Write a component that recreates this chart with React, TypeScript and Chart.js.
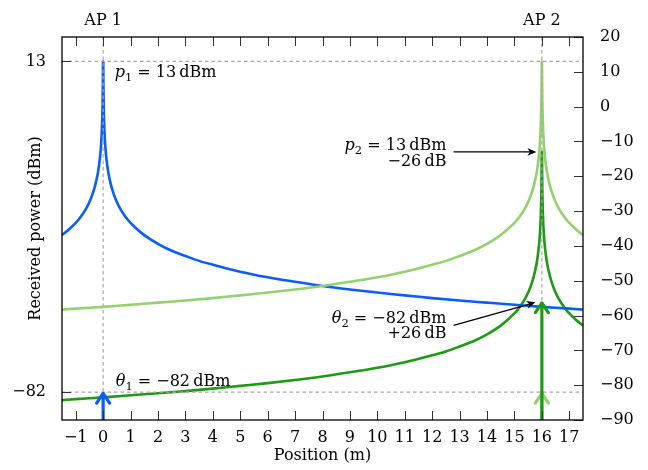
import React, { useEffect, useRef } from 'react';
import { Chart, registerables } from 'chart.js';

Chart.register(...registerables);

// ---- data ----
const xTicks = [-1, 0, 1, 2, 3, 4, 5, 6, 7, 8, 9, 10, 11, 12, 13, 14, 15, 16, 17];
const rightTicks = [-90, -80, -70, -60, -50, -40, -30, -20, -10, 0, 10, 20];
const leftTicks = [13, -82];

// AP 1 received power (blue)
const blueX = [-1.5, -1.25, -1, -0.9, -0.75, -0.6, -0.5, -0.4, -0.3, -0.2, -0.15, -0.1, -0.07, -0.05, -0.03, -0.02, -0.01, -0.005, 0,
  0.005, 0.01, 0.02, 0.03, 0.05, 0.07, 0.1, 0.15, 0.2, 0.3, 0.4, 0.5, 0.6, 0.75, 0.9, 1, 1.25, 1.5, 2, 2.5, 3, 3.5, 4, 5, 6, 7, 8, 9,
  10, 11, 12, 13, 14, 15, 16, 17, 17.5];
const blueY = [-36.9, -35.3, -33.4, -32.5, -30.9, -29.0, -27.4, -25.4, -22.9, -19.4, -16.9, -13.4, -10.3, -7.4, -2.9, 0.6, 6.6, 12.6, 13,
  12.6, 6.6, 0.6, -2.9, -7.4, -10.3, -13.4, -16.9, -19.4, -22.9, -25.4, -27.4, -29.0, -30.9, -32.5, -33.4, -35.3, -36.9, -39.4, -41.4, -42.9, -44.3, -45.4, -47.4, -49.0, -50.3, -51.5, -52.5,
  -53.4, -54.2, -55.0, -55.7, -56.3, -56.9, -57.5, -58.0, -58.3];

// AP 2 received power (light green) and with -26 dB (dark green)
const ap2X = [-1.5, -1, 0, 1, 2, 3, 4, 5, 6, 7, 8, 9, 10, 11, 12, 12.5, 13, 13.5, 14, 14.5, 15, 15.1, 15.25, 15.4, 15.5, 15.6, 15.7,
  15.8, 15.85, 15.9, 15.93, 15.95, 15.97, 15.98, 15.99, 15.995, 16, 16.005, 16.01, 16.02, 16.03, 16.05, 16.07, 16.1, 16.15,
  16.2, 16.3, 16.4, 16.5, 16.6, 16.75, 16.9, 17, 17.25, 17.5];
const lightY = [-58.3, -58.0, -57.5, -56.9, -56.3, -55.7, -55.0, -54.2, -53.4, -52.5, -51.5, -50.3, -49.0, -47.4, -45.4, -44.3, -42.9, -41.4, -39.4, -36.9, -33.4, -32.5, -30.9, -29.0, -27.4, -25.4, -22.9,
  -19.4, -16.9, -13.4, -10.3, -7.4, -2.9, 0.6, 6.6, 12.6, 13, 12.6, 6.6, 0.6, -2.9, -7.4, -10.3, -13.4, -16.9,
  -19.4, -22.9, -25.4, -27.4, -29.0, -30.9, -32.5, -33.4, -35.3, -36.9];
const darkY = [-84.3, -84.0, -83.5, -82.9, -82.3, -81.7, -81.0, -80.2, -79.4, -78.5, -77.5, -76.3, -75.0, -73.4, -71.4, -70.3, -68.9, -67.4, -65.4, -62.9, -59.4, -58.5, -56.9, -55.0, -53.4, -51.4, -48.9,
  -45.4, -42.9, -39.4, -36.3, -33.4, -28.9, -25.4, -19.4, -13.4, -13, -13.4, -19.4, -25.4, -28.9, -33.4, -36.3, -39.4, -42.9,
  -45.4, -48.9, -51.4, -53.4, -55.0, -56.9, -58.5, -59.4, -61.3, -62.9];

const apPositions = [0, 16];
const apLabels = ['AP 1', 'AP 2'];
const p1 = 13;
const theta1 = -82;
const offsetDb = 26;

// ---- styles ----
const BLUE = '#0a5cff';
const LIGHT = '#93d16e';
const DARK = '#1e9a14';
const FONT = 'DejaVu Serif';
const FS = 16;

const minus = (v: number) => (v < 0 ? '\u2212' + Math.abs(v) : String(v));

type Part = { t: string; it?: boolean; sub?: boolean };

function partFont(p: Part) {
  const size = p.sub ? 11.5 : FS;
  return `${p.it ? 'italic ' : ''}${size}px "${FONT}"`;
}

function drawMath(ctx: CanvasRenderingContext2D, parts: Part[], x: number, y: number, align: 'left' | 'right') {
  ctx.save();
  ctx.textAlign = 'left';
  ctx.textBaseline = 'alphabetic';
  ctx.fillStyle = '#000';
  let total = 0;
  for (const p of parts) {
    ctx.font = partFont(p);
    total += ctx.measureText(p.t).width;
  }
  let cx = align === 'left' ? x : x - total;
  for (const p of parts) {
    ctx.font = partFont(p);
    ctx.fillText(p.t, cx, p.sub ? y + 3.5 : y);
    cx += ctx.measureText(p.t).width;
  }
  ctx.restore();
}

function upArrow(ctx: CanvasRenderingContext2D, x: number, yBottom: number, yTip: number, color: string) {
  ctx.save();
  ctx.strokeStyle = color;
  ctx.lineWidth = 3.2;
  ctx.lineCap = 'butt';
  ctx.beginPath();
  ctx.moveTo(x, yBottom);
  ctx.lineTo(x, yTip + 1.5);
  ctx.stroke();
  ctx.lineCap = 'round';
  ctx.lineJoin = 'round';
  ctx.lineWidth = 3.2;
  ctx.beginPath();
  ctx.moveTo(x - 6.5, yTip + 11);
  ctx.quadraticCurveTo(x - 2, yTip + 4, x, yTip + 1.2);
  ctx.quadraticCurveTo(x + 2, yTip + 4, x + 6.5, yTip + 11);
  ctx.stroke();
  ctx.restore();
}

function blackArrow(ctx: CanvasRenderingContext2D, x0: number, y0: number, x1: number, y1: number) {
  const ang = Math.atan2(y1 - y0, x1 - x0);
  const len = 9;
  ctx.save();
  ctx.strokeStyle = '#000';
  ctx.fillStyle = '#000';
  ctx.lineWidth = 1.3;
  ctx.beginPath();
  ctx.moveTo(x0, y0);
  ctx.lineTo(x1 - Math.cos(ang) * len * 0.7, y1 - Math.sin(ang) * len * 0.7);
  ctx.stroke();
  ctx.translate(x1, y1);
  ctx.rotate(ang);
  ctx.beginPath();
  ctx.moveTo(0, 0);
  ctx.lineTo(-len, 3.8);
  ctx.lineTo(-len * 0.72, 0);
  ctx.lineTo(-len, -3.8);
  ctx.closePath();
  ctx.fill();
  ctx.restore();
}

const overlay = {
  id: 'overlay',
  afterDatasetDraw(chart: any, args: any) {
    if (args.index !== 0) return;
    const { ctx, chartArea: a, scales } = chart;
    const xs = scales.x, ys = scales.yR;
    ctx.save();
    ctx.strokeStyle = '#a8a8a8';
    ctx.lineWidth = 1.2;
    ctx.setLineDash([3.5, 3]);
    for (const v of leftTicks) {
      const py = ys.getPixelForValue(v);
      ctx.beginPath();
      ctx.moveTo(a.left, py);
      ctx.lineTo(a.right, py);
      ctx.stroke();
    }
    for (const v of apPositions) {
      const px = xs.getPixelForValue(v);
      ctx.beginPath();
      ctx.moveTo(px, a.top);
      ctx.lineTo(px, a.bottom);
      ctx.stroke();
    }
    ctx.restore();
  },
  afterDatasetsDraw(chart: any) {
    const { ctx, chartArea: a, scales } = chart;
    const xs = scales.x, ys = scales.yR;
    const X = (v: number) => xs.getPixelForValue(v);
    const Y = (v: number) => ys.getPixelForValue(v);

    // threshold arrows
    upArrow(ctx, X(apPositions[1]), a.bottom, Y(theta1), LIGHT);
    upArrow(ctx, X(apPositions[1]), a.bottom, Y(theta1 + offsetDb), DARK);
    upArrow(ctx, X(apPositions[0]), a.bottom, Y(theta1), BLUE);

    // annotation arrows
    blackArrow(ctx, X(12.78), Y(p1 - offsetDb), X(15.8), Y(p1 - offsetDb));
    blackArrow(ctx, X(12.78), Y(-62.8), X(15.77), Y(-56.2));

    // texts
    drawMath(ctx, [{ t: 'p', it: true }, { t: '1', sub: true }, { t: ' = 13\u2009dBm' }], X(0.42), Y(8.4), 'left');
    drawMath(ctx, [{ t: '\u03b8', it: true }, { t: '1', sub: true }, { t: ' = \u221282\u2009dBm' }], X(0.46), Y(-80.3), 'left');
    drawMath(ctx, [{ t: 'p', it: true }, { t: '2', sub: true }, { t: ' = 13\u2009dBm' }], X(12.52), Y(-12.5), 'right');
    drawMath(ctx, [{ t: '\u221226\u2009dB' }], X(12.52), Y(-17.1), 'right');
    drawMath(ctx, [{ t: '\u03b8', it: true }, { t: '2', sub: true }, { t: ' = \u221282\u2009dBm' }], X(12.52), Y(-62.2), 'right');
    drawMath(ctx, [{ t: '+26\u2009dB' }], X(12.52), Y(-66.5), 'right');

    // AP labels
    ctx.save();
    ctx.font = `${FS}px "${FONT}"`;
    ctx.fillStyle = '#000';
    ctx.textAlign = 'center';
    ctx.textBaseline = 'alphabetic';
    apPositions.forEach((v, i) => ctx.fillText(apLabels[i], X(v), 25));
    ctx.restore();
  },
  afterDraw(chart: any) {
    const { ctx, chartArea: a, scales } = chart;
    const xs = scales.x, ys = scales.yR;
    const TL = 9;
    ctx.save();
    ctx.strokeStyle = '#333';
    ctx.lineWidth = 1;
    ctx.beginPath();
    for (const v of xTicks) {
      const px = Math.round(xs.getPixelForValue(v)) + 0.5;
      ctx.moveTo(px, a.bottom);
      ctx.lineTo(px, a.bottom - TL);
      ctx.moveTo(px, a.top);
      ctx.lineTo(px, a.top + TL);
    }
    for (const v of rightTicks) {
      const py = Math.round(ys.getPixelForValue(v)) + 0.5;
      ctx.moveTo(a.right, py);
      ctx.lineTo(a.right - TL, py);
    }
    for (const v of leftTicks) {
      const py = Math.round(ys.getPixelForValue(v)) + 0.5;
      ctx.moveTo(a.left, py);
      ctx.lineTo(a.left + TL, py);
    }
    ctx.stroke();
    ctx.strokeStyle = '#000';
    ctx.lineWidth = 1.3;
    ctx.strokeRect(a.left, a.top, a.right - a.left, a.bottom - a.top);
    ctx.restore();
  },
};

export default function App() {
  const ref = useRef<HTMLCanvasElement | null>(null);
  useEffect(() => {
    if (!ref.current) return;
    const font = { family: FONT, size: FS };
    const chart = new Chart(ref.current, {
      type: 'line',
      data: {
        datasets: [
          {
            data: ap2X.map((x, i) => ({ x, y: lightY[i] })),
            borderColor: LIGHT,
            borderWidth: 2.6,
            pointRadius: 0,
            cubicInterpolationMode: 'monotone',
            yAxisID: 'yR',
          },
          {
            data: blueX.map((x, i) => ({ x, y: blueY[i] })),
            borderColor: BLUE,
            borderWidth: 2.6,
            pointRadius: 0,
            cubicInterpolationMode: 'monotone',
            yAxisID: 'yR',
          },
          {
            data: ap2X.map((x, i) => ({ x, y: darkY[i] })),
            borderColor: DARK,
            borderWidth: 2.6,
            pointRadius: 0,
            cubicInterpolationMode: 'monotone',
            yAxisID: 'yR',
          },
        ],
      },
      options: {
        animation: false,
        responsive: false,
        layout: { padding: 0 },
        plugins: { legend: { display: false }, tooltip: { enabled: false } },
        scales: {
          x: {
            type: 'linear',
            position: 'bottom',
            min: -1.5,
            max: 17.5,
            grid: { display: false, drawTicks: false },
            border: { display: false },
            afterBuildTicks: (s: any) => { s.ticks = xTicks.map((v) => ({ value: v })); },
            afterFit: (s: any) => { s.height = 50; },
            ticks: { font, color: '#000', padding: 8, maxRotation: 0, autoSkip: false, callback: (v: any) => minus(Number(v)) },
            title: { display: true, text: 'Position (m)', font, color: '#000', padding: { top: 0, bottom: 5 } },
          },
          xTop: {
            type: 'linear',
            position: 'top',
            min: -1.5,
            max: 17.5,
            grid: { display: false, drawTicks: false },
            border: { display: false },
            ticks: { display: false },
            afterFit: (s: any) => { s.height = 37; },
          },
          yL: {
            type: 'linear',
            position: 'left',
            min: -90,
            max: 20,
            grid: { display: false, drawTicks: false },
            border: { display: false },
            afterBuildTicks: (s: any) => { s.ticks = leftTicks.map((v) => ({ value: v })); },
            afterFit: (s: any) => { s.width = 62; },
            ticks: { font, color: '#000', padding: 16, autoSkip: false, callback: (v: any) => minus(Number(v)) },
            title: { display: true, text: 'Received power (dBm)', font, color: '#000', padding: { top: 26, bottom: 0 } },
          },
          yR: {
            type: 'linear',
            position: 'right',
            min: -90,
            max: 20,
            grid: { display: false, drawTicks: false },
            border: { display: false },
            afterBuildTicks: (s: any) => { s.ticks = rightTicks.map((v) => ({ value: v })); },
            afterFit: (s: any) => { s.width = 65; },
            ticks: { font, color: '#000', padding: 17, autoSkip: false, callback: (v: any) => minus(Number(v)) },
          },
        },
      } as any,
      plugins: [overlay],
    });
    return () => chart.destroy();
  }, []);
  return (
    <canvas
      ref={ref}
      width={648}
      height={470}
      style={{ position: 'absolute', left: 0, top: 0, width: 648, height: 470 }}
    />
  );
}
